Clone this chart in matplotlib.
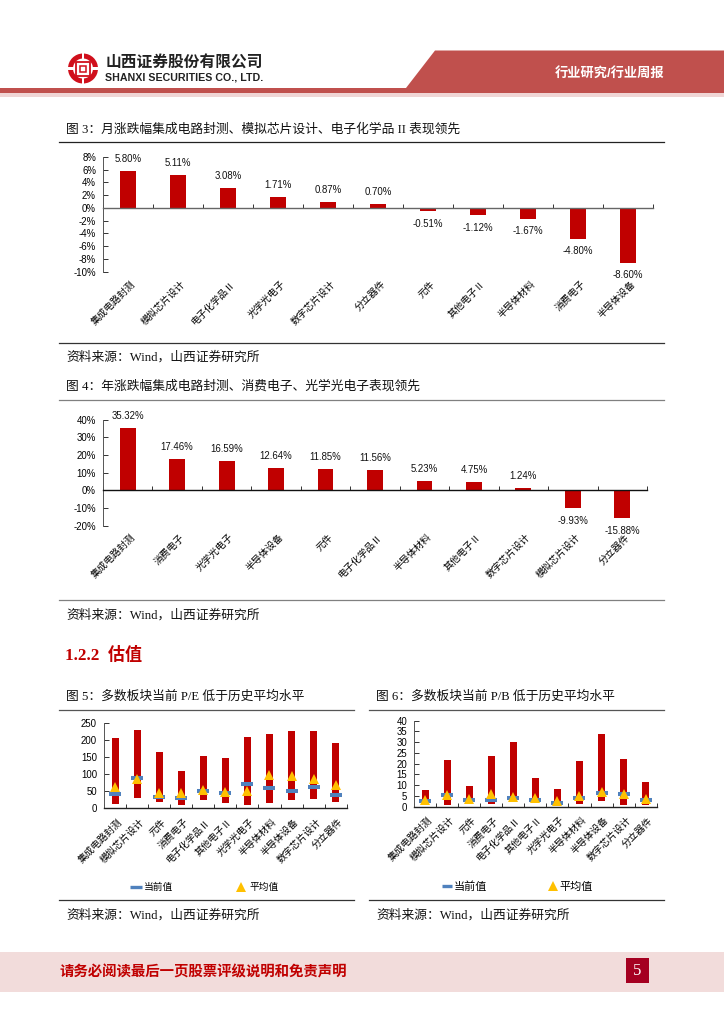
import matplotlib
matplotlib.use("Agg")
import matplotlib.pyplot as plt
from matplotlib.patches import Polygon, Rectangle, Wedge
from matplotlib.lines import Line2D
from matplotlib.transforms import ScaledTranslation

plt.rcParams['font.family'] = ['Liberation Sans', 'Noto Sans CJK SC', 'DejaVu Sans']

W, H = 724, 1024

# 图3 月涨跌幅
month_names = ['集成电路封测', '模拟芯片设计', '电子化学品Ⅱ', '光学光电子', '数字芯片设计', '分立器件',
               '元件', '其他电子Ⅱ', '半导体材料', '消费电子', '半导体设备']
month_vals = [5.80, 5.11, 3.08, 1.71, 0.87, 0.70, -0.51, -1.12, -1.67, -4.80, -8.60]
month_ticks = [8, 6, 4, 2, 0, -2, -4, -6, -8, -10]

# 图4 年涨跌幅
year_names = ['集成电路封测', '消费电子', '光学光电子', '半导体设备', '元件', '电子化学品Ⅱ',
              '半导体材料', '其他电子Ⅱ', '数字芯片设计', '模拟芯片设计', '分立器件']
year_vals = [35.32, 17.46, 16.59, 12.64, 11.85, 11.56, 5.23, 4.75, 1.24, -9.93, -15.88]
year_ticks = [40, 30, 20, 10, 0, -10, -20]

# 图5 图6 估值
val_names = ['集成电路封测', '模拟芯片设计', '元件', '消费电子', '电子化学品Ⅱ', '其他电子Ⅱ',
             '光学光电子', '半导体材料', '半导体设备', '数字芯片设计', '分立器件']
pe_high = [206, 230, 165, 110, 153, 149, 210, 218, 226, 226, 191]
pe_low = [12, 31, 20, 10, 24, 16, 10, 17, 25, 27, 20]
pe_now = [43, 88, 32, 31, 51, 46, 72, 61, 52, 64, 40]
pe_avg = [62, 87, 46, 44, 54, 48, 50, 98, 95, 85, 69]
pe_ticks = [0, 50, 100, 150, 200, 250]

pb_high = [7.8, 21.7, 9.8, 23.6, 30.0, 13.2, 8.4, 21.2, 33.8, 22.2, 11.5]
pb_low = [0.8, 1.0, 1.4, 1.4, 2.2, 1.7, 1.2, 1.2, 2.5, 0.8, 1.0]
pb_now = [2.5, 5.5, 3.0, 3.2, 4.0, 3.0, 1.7, 3.9, 6.2, 5.7, 3.0]
pb_avg = [3.1, 5.5, 3.4, 6.0, 4.5, 4.2, 2.8, 5.1, 7.0, 6.0, 3.6]
pb_ticks = [0, 5, 10, 15, 20, 25, 30, 35, 40]

RED = '#C00000'
BLUE = '#4F81BD'
YELLOW = '#FFC000'
SERIF = ['Liberation Serif', 'Noto Sans CJK SC', 'DejaVu Sans']


def px_axes(fig, left, top, right, bottom):
    # axes placed by pixel box, y measured from the top of the page
    ax = fig.add_axes([left / W, 1 - bottom / H, (right - left) / W, (bottom - top) / H])
    ax.patch.set_alpha(0)
    return ax


def setup_axis(ax, names, ymin, ymax, yticks, ylabels, zero_color, label_pad):
    n = len(names)
    ax.set_xlim(-0.5, n - 0.5)
    ax.set_ylim(ymin, ymax)
    for s in ['top', 'right']:
        ax.spines[s].set_visible(False)
    ax.spines['left'].set_color('#555555')
    ax.spines['left'].set_linewidth(0.7)
    ax.spines['bottom'].set_color(zero_color)
    ax.spines['bottom'].set_linewidth(1.0)
    ax.spines['bottom'].set_position(('data', 0))
    ax.set_yticks(yticks, ylabels)
    ax.tick_params(axis='y', direction='in', length=3.5, width=0.7, pad=5, labelsize=6.9, color='#333333')
    ax.set_xticks(range(n), names)
    ax.set_xticks([i - 0.5 for i in range(n + 1)], minor=True)
    ax.tick_params(axis='x', which='major', length=0, pad=label_pad, labelsize=6.9)
    ax.tick_params(axis='x', which='minor', direction='in', length=2.8, width=0.7, color='#333333')
    shift = ScaledTranslation(2 / 100, 0, ax.figure.dpi_scale_trans)
    for t in ax.get_xticklabels():
        t.set_rotation(45)
        t.set_ha('right')
        t.set_va('top')
        t.set_rotation_mode('anchor')
        t.set_transform(t.get_transform() + shift)


def change_chart(fig, box, names, vals, yticks, width, zero_color, label_pad):
    ax = px_axes(fig, *box)
    labels = ['%d%%' % v for v in yticks]
    setup_axis(ax, names, min(yticks), max(yticks), yticks, labels, zero_color, label_pad)
    ax.bar(range(len(names)), vals, width=width, color=RED, zorder=2)
    for i, v in enumerate(vals):
        ax.annotate('%.2f%%' % v, (i, v), xytext=(0, 5 if v >= 0 else -5.5), textcoords='offset points',
                    ha='center', va='bottom' if v >= 0 else 'top', fontsize=6.9, color='#111111')
    return ax


def valuation_chart(fig, box, names, high, low, now, avg, yticks, legend_pos, legend_font, col_space, hlen):
    ax = px_axes(fig, *box)
    setup_axis(ax, names, min(yticks), max(yticks), yticks, [str(v) for v in yticks], '#222222', 6)
    x = list(range(len(names)))
    ax.bar(x, [h - l for h, l in zip(high, low)], bottom=low, width=0.32, color=RED, zorder=2)
    ax.plot(x, now, ls='none', marker='_', ms=8.6, mew=2.9, color=BLUE, zorder=3, label='当前值')
    ax.plot(x, avg, ls='none', marker='^', ms=6.6, mew=0, color=YELLOW, zorder=4, label='平均值')
    h0 = Line2D([], [], ls='none', marker='_', ms=hlen * legend_font * 0.85, mew=2.4, color=BLUE)
    h1 = Line2D([], [], ls='none', marker='^', ms=6.6, mew=0, color=YELLOW)
    ax.legend([h0, h1], ['当前值', '平均值'], ncol=2, frameon=False, fontsize=legend_font,
              loc='center', bbox_to_anchor=legend_pos, bbox_transform=fig.transFigure,
              columnspacing=col_space, handletextpad=0.1, handlelength=hlen)
    return ax


def draw_page(bg):
    # header band
    bg.add_patch(Rectangle((0, 88), W, 5, color='#C0504D', lw=0))
    bg.add_patch(Rectangle((0, 93), W, 4, color='#F0D5D5', lw=0))
    bg.add_patch(Polygon([(406, 88), (435, 50.5), (W, 50.5), (W, 88)], color='#C0504D', lw=0))
    bg.text(610, 73, '行业研究/行业周报', color='white', fontsize=9.5, fontweight='bold', ha='center', va='center')

    # logo
    lc, ly = 83, 68.5
    bg.add_patch(Wedge((lc, ly), 15, 0, 360, width=5, color='#D0101C', lw=0))
    bg.add_patch(Rectangle((lc - 16, ly - 1.2), 32, 2.4, color='white', lw=0))
    bg.add_patch(Rectangle((lc - 1.2, ly - 16), 2.4, 6.5, color='white', lw=0))
    bg.add_patch(Rectangle((lc - 1.2, ly + 9.5), 2.4, 6.5, color='white', lw=0))
    bg.add_patch(Rectangle((lc - 7, ly - 7), 14, 14, fill=False, ec='#D0101C', lw=1.3))
    bg.add_patch(Rectangle((lc - 3, ly - 3), 6, 6, fill=False, ec='#D0101C', lw=1.1))
    bg.text(184.5, 63.5, '山西证券股份有限公司', fontsize=11.3, fontweight='bold', color='#222222', ha='center', va='center')
    bg.text(184.5, 78, 'SHANXI SECURITIES CO., LTD.', fontsize=7.7, fontweight='bold', color='#222222', ha='center', va='center')

    # footer
    bg.add_patch(Rectangle((0, 952), W, 40, color='#F2DCDB', lw=0))
    bg.add_patch(Rectangle((625.5, 958), 23.5, 24.7, color='#A50021', lw=0))
    bg.text(637, 971, '5', color='white', fontsize=12, ha='center', va='center', family=SERIF)
    bg.text(60, 972, '请务必阅读最后一页股票评级说明和免责声明', color=RED, fontsize=10.4, fontweight='bold',
            ha='left', va='center')

    # titles, source lines and rules
    titles = [(66, 129.5, '图 3：月涨跌幅集成电路封测、模拟芯片设计、电子化学品 II 表现领先'),
              (66, 386.5, '图 4：年涨跌幅集成电路封测、消费电子、光学光电子表现领先'),
              (66, 696.5, '图 5：多数板块当前 P/E 低于历史平均水平'),
              (376, 696.5, '图 6：多数板块当前 P/B 低于历史平均水平')]
    for x, y, s in titles:
        bg.text(x, y, s, fontsize=9.2, color='#111111', ha='left', va='center', family=SERIF)
    sources = [(66, 357.5), (66, 615.5), (66, 915.5), (376, 915.5)]
    for x, y in sources:
        bg.text(x, y, '资料来源：Wind，山西证券研究所', fontsize=9.2, color='#111111', ha='left', va='center', family=SERIF)
    rules = [(59, 664, 142, '#222222'), (59, 664, 342.5, '#333333'), (59, 664, 400, '#808080'), (59, 664, 600, '#808080'),
             (59, 354, 710, '#555555'), (369, 664, 710, '#555555'), (59, 354, 900, '#333333'), (369, 664, 900, '#333333')]
    for x0, x1, y, c in rules:
        bg.plot([x0, x1], [y, y], color=c, lw=0.9)
    bg.text(65, 655, '1.2.2  估值', fontsize=12.3, fontweight='bold', color='#C00000', ha='left', va='center', family=SERIF)


fig = plt.figure(figsize=(W / 100, H / 100), dpi=100)
bg = fig.add_axes([0, 0, 1, 1])
bg.set_xlim(0, W)
bg.set_ylim(H, 0)
bg.axis('off')
draw_page(bg)

change_chart(fig, (103, 157, 653, 271.7), month_names, month_vals, month_ticks, 0.32, '#666666', 51)
change_chart(fig, (103, 419.5, 647, 525.7), year_names, year_vals, year_ticks, 0.32, '#111111', 30)
valuation_chart(fig, (104, 723.3, 346.7, 808.3), val_names, pe_high, pe_low, pe_now, pe_avg, pe_ticks,
                (204 / W, 1 - 887 / H), 7, 6.3, 1.4)
valuation_chart(fig, (414, 720.7, 656.7, 806.7), val_names, pb_high, pb_low, pb_now, pb_avg, pb_ticks,
                (517 / W, 1 - 887 / H), 8, 5.45, 1.0)

fig.savefig('out.png', dpi=100)
